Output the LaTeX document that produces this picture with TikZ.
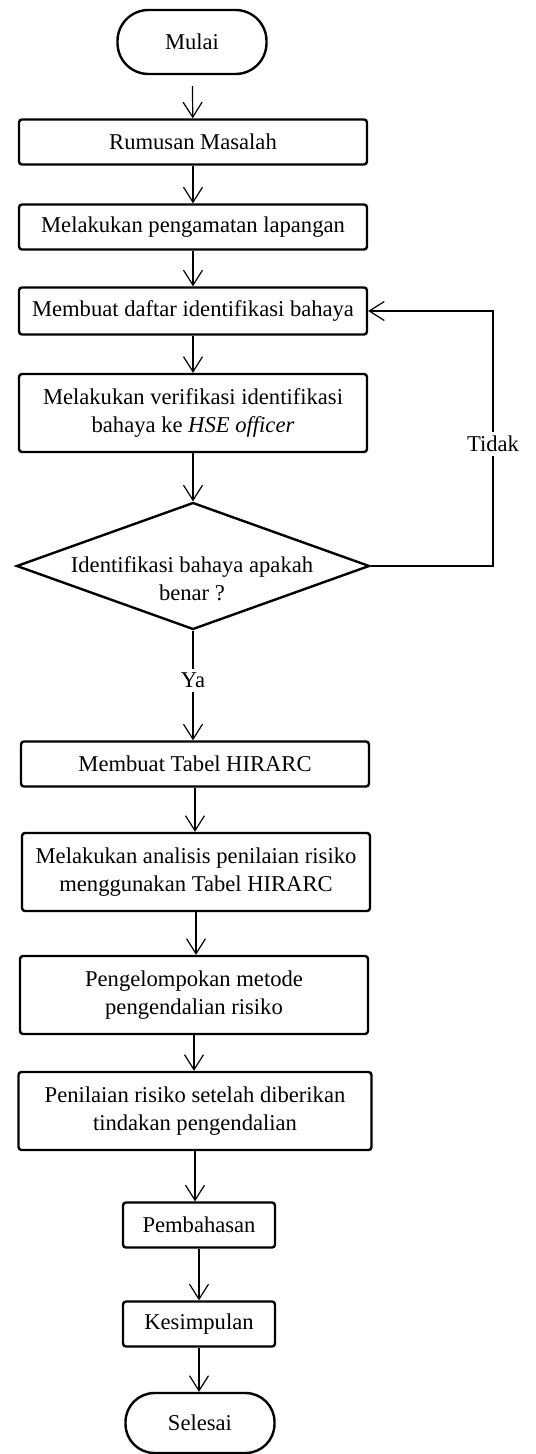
\documentclass[tikz,border=0pt]{standalone}
\usepackage{fontspec}
\setmainfont{Liberation Serif}
\usetikzlibrary{shapes.geometric,arrows.meta}

\begin{document}
\begin{tikzpicture}[
                x=0.5pt, y=-0.5pt,
                every node/.style={
                    font=\fontsize{11.3pt}{14pt}\selectfont,
                    align=center
                },
                box/.style={
                    draw=black,
                    rectangle,
                    rounded corners=1.5pt,
                    line width=1.2pt,
                    minimum width=174pt,
                    minimum height=22.5pt,
                    inner sep=2pt
                },
                tallbox/.style={
                    box,
                    minimum height=39pt
                },
                smallbox/.style={
                    box,
                    minimum width=76pt
                },
                terminal/.style={
                    draw=black,
                    rectangle,
                    rounded corners=15.5pt,
                    line width=1.2pt,
                    minimum width=74.5pt,
                    minimum height=32pt
                },
                decision/.style={
                    draw=black,
                    diamond,
                    line width=1.2pt,
                    aspect=2.78,
                    inner sep=0pt,
                    minimum width=176.5pt,
                    minimum height=63.5pt
                },
                tag/.style={
                    fill=white,
                    inner sep=2pt
                },
                arrow/.style={
                    -{Straight Barb[length=7.5pt,width=9.5pt]},
                    line width=0.6pt
                }
            ]
                \useasboundingbox (0,0) rectangle (535,1454);

                \node[terminal] (mulai) at (192,42) {Mulai};
                \node[box] (rumusan) at (193,142) {Rumusan Masalah};
                \node[box] (amati) at (193,227) {Melakukan pengamatan lapangan};
                \node[box, minimum height=23.5pt] (daftar) at (193,311) {Membuat daftar identifikasi bahaya};
                \node[tallbox] (verifikasi) at (193,413) {Melakukan verifikasi identifikasi\\bahaya ke \textit{HSE officer}};
                \node[decision] (cek) at (193,566) {};
                \node (cekteks) at (192,579) {Identifikasi bahaya apakah\\benar ?};
                \node[box] (tabel) at (195,764) {Membuat Tabel HIRARC};
                \node[tallbox] (analisis) at (196,872) {Melakukan analisis penilaian risiko\\menggunakan Tabel HIRARC};
                \node[tallbox] (kelompok) at (194,995) {Pengelompokan metode\\pengendalian risiko};
                \node[tallbox, minimum width=176.5pt] (nilai) at (195,1111) {Penilaian risiko setelah diberikan\\tindakan pengendalian};
                \node[smallbox] (bahas) at (199,1225) {Pembahasan};
                \node[smallbox] (simpul) at (199,1324) {Kesimpulan};
                \node[terminal, minimum height=30pt, rounded corners=14.5pt] (selesai) at (200,1423) {Selesai};

                \coordinate (belok) at (493,566);

                \draw[arrow, shorten <=5.5pt] (mulai) -- (rumusan);
                \draw[arrow] (rumusan) -- (amati);
                \draw[arrow] (amati) -- (daftar);
                \draw[arrow] (daftar) -- (verifikasi);
                \draw[arrow] (verifikasi) -- (cek);
                \draw[arrow] (cek.east) -- (belok) |- node[tag, pos=0.24] (tidak) {Tidak} (daftar.east);
                \draw[arrow] (cek.south) -- node[tag, pos=0.45] (ya) {Ya} (cek.south |- tabel.north);
                \draw[arrow] (tabel.south) -- (tabel.south |- analisis.north);
                \draw[arrow] (analisis.south) -- (analisis.south |- kelompok.north);
                \draw[arrow] (kelompok.south) -- (kelompok.south |- nilai.north);
                \draw[arrow] (nilai.south) -- (nilai.south |- bahas.north);
                \draw[arrow] (bahas) -- (simpul);
                \draw[arrow] (simpul.south) -- (simpul.south |- selesai.north);
        \end{tikzpicture}
\end{document}
